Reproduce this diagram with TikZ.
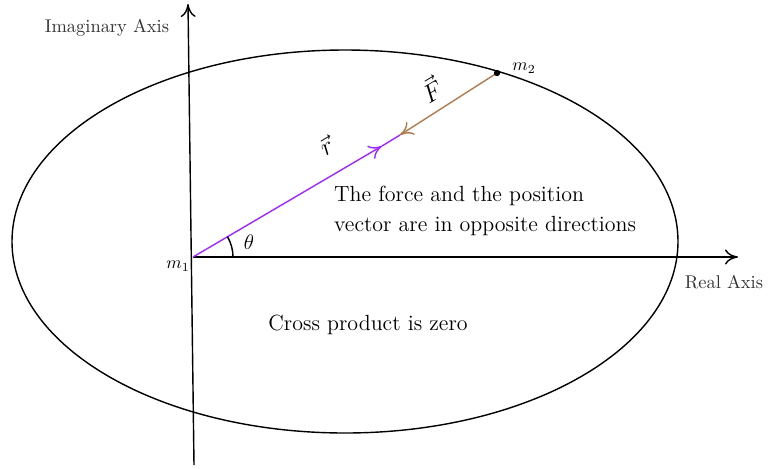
\documentclass[tikz,border=0pt]{standalone}
\usepackage{amsmath}
\usetikzlibrary{arrows.meta,angles,quotes}

\definecolor{rpurple}{RGB}{160,40,255}
\definecolor{fbrown}{RGB}{176,122,80}

\begin{document}
\begin{tikzpicture}[x={(0.02cm,0)},y={(0,-0.02cm)},
    >={To[length=2.6mm,width=3mm]},
    axislabel/.style={font=\fontsize{10.5}{12}\selectfont, text=black!80},
    veclabel/.style={rotate=31, font=\Large},
    vecr/.style={rpurple, thick},
    vecf/.style={fbrown, thick}]
  \useasboundingbox (0,0) rectangle (768,468);
  %% points of the picture
  \coordinate (m1) at (193,257);
  \coordinate (m2) at (497,73);
  \coordinate (meet) at (400,135);
  \coordinate (rtip) at (382,146);
  \coordinate (xend) at (738,257);
  \coordinate (yend) at (188,4);
  \coordinate (ybot) at (194,465);
  %% orbit
  \draw[thick] (345,241.5) ellipse [x radius=333, y radius=191.5];
  %% axes
  \draw[->, thick] (m1) -- (xend);
  \draw[->, thick] (ybot) -- (yend);
  \node[axislabel] at (724,282) (RA) {Real Axis};
  \node[axislabel] at (107,28) (IA) {Imaginary Axis};
  %% vectors
  \draw[vecr, ->] (m1) -- (rtip);
  \draw[vecr] (rtip) -- (meet);
  \draw[vecf, ->] (m2) -- (meet);
  \fill (m2) circle (3.2);
  \node at (178,266) (M1) {$m_1$};
  \node at (524,68) (M2) {$m_2$};
  \node[veclabel] at (326,146) (R) {$\vec{r}$};
  \node[veclabel] at (431,89) (F) {$\vec{F}$};
  %% angle
  \pic[draw, thick, angle radius=0.8cm, "$\theta$", angle eccentricity=1.45, font=\large] {angle = xend--m1--meet};
  %% texts
  \node[right, align=left, font=\fontsize{12.5}{15}\selectfont] at (328,211) (T1)
    {The force and the position\\[2pt]vector are in opposite directions};
  \node[font=\fontsize{12.5}{15}\selectfont] at (368,325) (T2) {Cross product is zero};
\end{tikzpicture}
\end{document}
